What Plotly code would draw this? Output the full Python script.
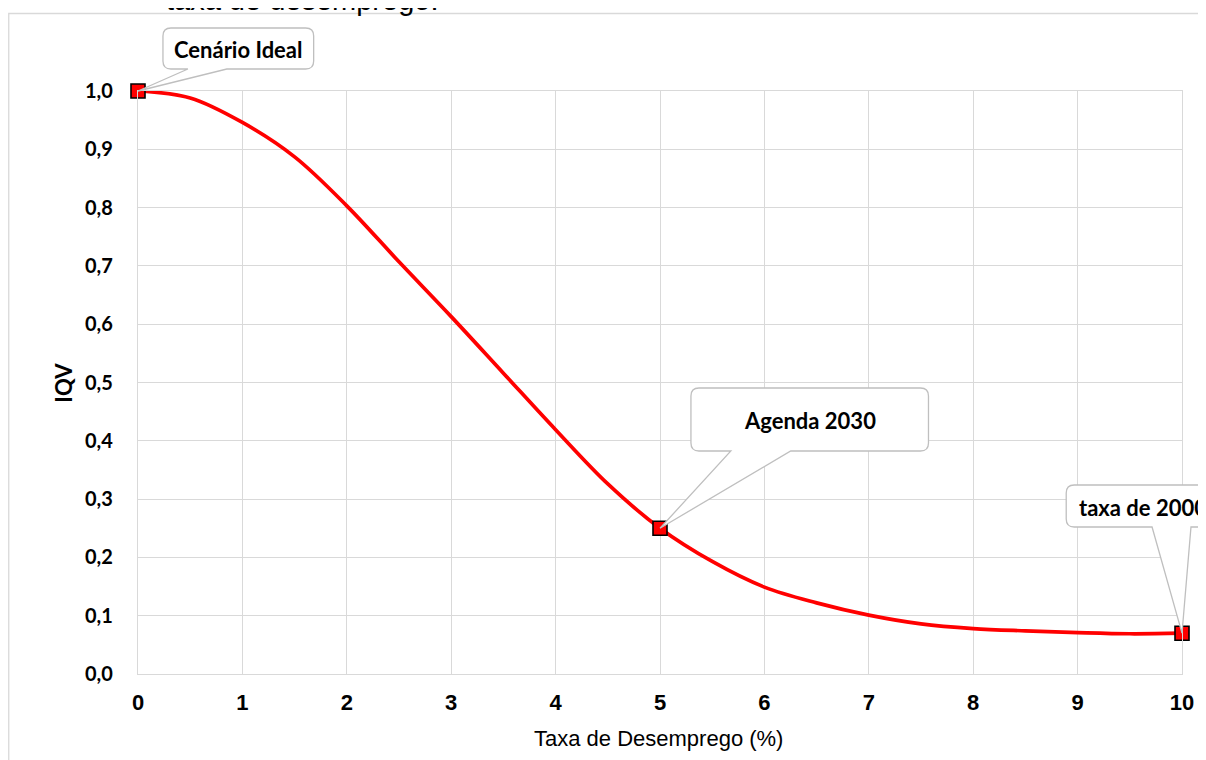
import plotly.graph_objects as go

# ---- data ----
taxa = [0, 0.5, 1, 1.5, 2, 2.5, 3, 3.5, 4, 4.5, 5, 5.5, 6, 6.5, 7, 7.5, 8, 8.5, 9, 9.5, 10]
iqv = [1.0, 0.988, 0.946, 0.887, 0.803, 0.707, 0.613, 0.516, 0.419, 0.326, 0.25,
       0.193, 0.149, 0.122, 0.101, 0.086, 0.078, 0.074, 0.071, 0.069, 0.07]
pontos_taxa = [0, 5, 10]
pontos_iqv = [1.0, 0.25, 0.07]
rotulos = ["Cenário Ideal", "Agenda 2030", "taxa de 2000"]
x_ticks = list(range(0, 11))
y_ticks = [0.0, 0.1, 0.2, 0.3, 0.4, 0.5, 0.6, 0.7, 0.8, 0.9, 1.0]

# ---- layout geometry (page pixels; the page body adds an 8px offset) ----
OFF = 8
WIDTH, HEIGHT = 1206 - OFF, 760 - OFF
L, R, T, B = 138, 1184, 91, 674
PW, PH = R - L, B - T
XMAX, YMAX = 10, 1.0


def px(x):
    return (x - L) / PW


def py(y):
    return (B - y) / PH


def callout_path(l, t, r, b, wx1, wx2, tip, rad=8):
    tx, ty = tip
    pts = [
        f"M{px(l+rad)},{py(t)}",
        f"L{px(r-rad)},{py(t)}",
        f"Q{px(r)},{py(t)} {px(r)},{py(t+rad)}",
        f"L{px(r)},{py(b-rad)}",
        f"Q{px(r)},{py(b)} {px(r-rad)},{py(b)}",
        f"L{px(wx2)},{py(b)}",
        f"L{tx},{ty}",
        f"L{px(wx1)},{py(b)}",
        f"L{px(l+rad)},{py(b)}",
        f"Q{px(l)},{py(b)} {px(l)},{py(b-rad)}",
        f"L{px(l)},{py(t+rad)}",
        f"Q{px(l)},{py(t)} {px(l+rad)},{py(t)}",
        "Z",
    ]
    return " ".join(pts)


fig = go.Figure()

fig.add_trace(go.Scatter(
    x=taxa, y=iqv, mode="lines",
    line=dict(color="#ff0000", width=3.7, shape="spline", smoothing=1.0),
    cliponaxis=False, showlegend=False, hoverinfo="skip"))

fig.add_trace(go.Scatter(
    x=pontos_taxa, y=pontos_iqv, mode="markers",
    marker=dict(symbol="square", size=14, color="#ff0000",
                line=dict(color="#000000", width=1.6)),
    cliponaxis=False, showlegend=False))

# callout boxes: (l, t, r, b, wedge x1, wedge x2, text x, text y, xanchor)
boxes = [
    (163, 28, 314, 69, 188, 227, 238.5, 49, "center"),
    (692, 388, 930, 451, 732, 792, 811, 420, "center"),
    (1068, 485, 1228, 527, 1154, 1193, 1079, 507, "left"),
]

shapes = []
annotations = []
for (l, t, r, b, w1, w2, tx, ty, xa), xv, yv, lab in zip(boxes, pontos_taxa, pontos_iqv, rotulos):
    tip = (xv / XMAX, yv / YMAX)
    shapes.append(dict(type="path", xref="paper", yref="paper",
                       path=callout_path(l, t, r, b, w1, w2, tip),
                       line=dict(color="#bfbfbf", width=1.3), fillcolor="white",
                       layer="above"))
    annotations.append(dict(xref="paper", yref="paper", x=px(tx), y=py(ty),
                            xanchor=xa, yanchor="middle", showarrow=False, text=f"<b>{lab}</b>",
                            font=dict(family="Lato", size=22, color="black")))

# chart outer border
shapes.insert(0, dict(type="rect", xref="paper", yref="paper",
                      x0=px(8.5), y0=py(780), x1=px(1205.5), y1=py(13.5),
                      line=dict(color="#d9d9d9", width=1.3), fillcolor="rgba(0,0,0,0)",
                      layer="below"))

# partially visible title text at top (cut off by the top edge, as in the source)
annotations.append(dict(xref="paper", yref="paper", x=px(164), y=py(0),
                        xanchor="left", yanchor="middle", showarrow=False,
                        text="taxa de desemprego.",
                        font=dict(family="Liberation Sans, Arial", size=29, color="black")))

# y axis title
annotations.append(dict(xref="paper", yref="paper", x=px(63), y=0.5,
                        xanchor="center", yanchor="middle", showarrow=False, textangle=-90,
                        text="<b>IQV</b>",
                        font=dict(family="Lato", size=22, color="black")))

# x axis title
annotations.append(dict(xref="paper", yref="paper", x=px(659), y=py(738),
                        xanchor="center", yanchor="middle", showarrow=False,
                        text="Taxa de Desemprego (%)",
                        font=dict(family="Liberation Sans, Arial", size=22, color="black")))

fig.update_layout(
    width=WIDTH, height=HEIGHT,
    margin=dict(l=L - OFF, r=WIDTH - (R - OFF), t=T - OFF, b=HEIGHT - (B - OFF)),
    paper_bgcolor="white", plot_bgcolor="white",
    shapes=shapes, annotations=annotations,
    xaxis=dict(range=[0, XMAX], tickvals=x_ticks, ticktext=[f"<b>{v}</b>" for v in x_ticks],
               showgrid=True, gridcolor="#d9d9d9", gridwidth=1.3,
               showline=True, linecolor="#d9d9d9", linewidth=1.3, mirror=True,
               zeroline=False, ticks="", ticklabelstandoff=8,
               tickfont=dict(family="Liberation Sans, Arial", size=22, color="black")),
    yaxis=dict(range=[0, YMAX], tickvals=y_ticks,
               ticktext=[f"<b>{v:.1f}</b>".replace(".", ",") for v in y_ticks],
               showgrid=True, gridcolor="#d9d9d9", gridwidth=1.3,
               showline=True, linecolor="#d9d9d9", linewidth=1.3, mirror=True,
               zeroline=False, ticks="", ticklabelstandoff=20,
               tickfont=dict(family="Lato", size=20, color="black")),
)

fig.write_html("out.html")
